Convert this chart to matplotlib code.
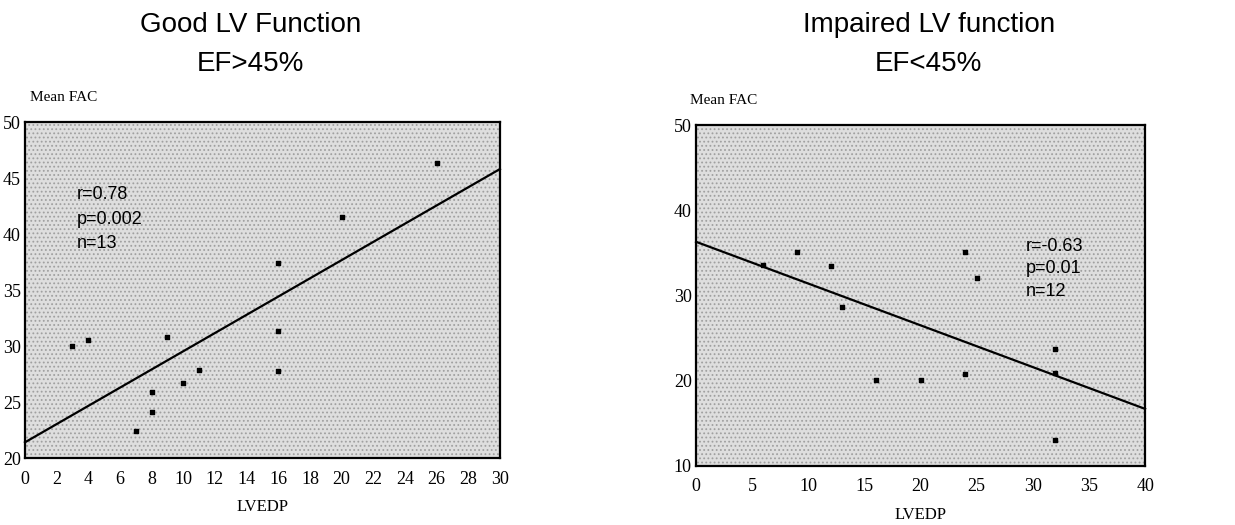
import numpy as np
import matplotlib.pyplot as plt
from matplotlib.patches import Rectangle

# Good LV function (EF > 45%)
good_lvedp = [3, 4, 7, 8, 8, 9, 10, 11, 16, 16, 16, 20, 26]
good_fac = [30.0, 30.5, 22.4, 25.9, 24.1, 30.8, 26.7, 27.9, 37.4, 31.3, 27.8, 41.5, 46.3]
good_fit = [21.4, 45.8]          # regression line at x = 0 and x = 30
good_stats = "r=0.78\np=0.002\nn=13"

# Impaired LV function (EF < 45%)
bad_lvedp = [6, 9, 12, 13, 16, 20, 24, 24, 25, 32, 32, 32]
bad_fac = [33.6, 35.1, 33.5, 28.6, 20.1, 20.1, 20.8, 35.1, 32.0, 23.7, 20.9, 13.1]
bad_fit = [36.3, 16.7]           # regression line at x = 0 and x = 40
bad_stats = "r=-0.63\np=0.01\nn=12"

serif = "Liberation Serif"
sans = "Liberation Sans"

plt.rcParams["hatch.linewidth"] = 0.8

fig = plt.figure(figsize=(12.35, 5.25), dpi=100)
fig.patch.set_facecolor("white")


def panel(rect, x, y, fit, xmax, ylim, xstep, ystep, stats, stats_pos, spacing,
          title, title_x, ylab_x):
    ax = fig.add_axes(rect)
    ax.set_facecolor("#dedede")
    # stippled grey background like the scanned original
    ax.add_patch(Rectangle((0, 0), 1, 1, transform=ax.transAxes, facecolor="none",
                           edgecolor="#a0a0a0", hatch="....", lw=0, zorder=0))
    ax.set_xlim(0, xmax)
    ax.set_ylim(*ylim)
    ax.set_xticks(np.arange(0, xmax + 1, xstep))
    ax.set_yticks(np.arange(ylim[0], ylim[1] + 1, ystep))
    ax.tick_params(axis="x", length=0, pad=9, labelsize=13)
    ax.tick_params(axis="y", length=0, pad=3, labelsize=13)
    for lab in ax.get_xticklabels() + ax.get_yticklabels():
        lab.set_fontfamily(serif)
    for sp in ax.spines.values():
        sp.set_linewidth(1.6)
        sp.set_color("black")

    ax.scatter(x, y, marker="s", s=10, color="black", zorder=3)
    ax.plot([0, xmax], fit, color="black", lw=1.6, zorder=2, clip_on=False)

    ax.text(stats_pos[0], stats_pos[1], stats, fontsize=13, family=sans,
            va="top", ha="left", linespacing=spacing)

    ax.set_xlabel("LVEDP", family=serif, fontsize=12, labelpad=8)
    ax.text(ylab_x, 1.072, "Mean FAC", transform=ax.transAxes, family=serif,
            fontsize=11, ha="left", va="center")

    fig.text(title_x, 0.952, title[0], family=sans, fontsize=20, ha="center", va="center")
    fig.text(title_x, 0.878, title[1], family=sans, fontsize=20, ha="center", va="center")
    return ax


panel([0.0202, 0.1276, 0.3846, 0.64], good_lvedp, good_fac, good_fit, 30, (20, 50), 2, 5,
      good_stats, (3.3, 44.3), 1.6, ("Good LV Function", "EF>45%"), 0.203, 0.01)
panel([0.5636, 0.1124, 0.3636, 0.6495], bad_lvedp, bad_fac, bad_fit, 40, (10, 50), 5, 10,
      bad_stats, (29.4, 36.8), 1.45, ("Impaired LV function", "EF<45%"), 0.752, -0.013)

fig.savefig("out.png", dpi=100)
